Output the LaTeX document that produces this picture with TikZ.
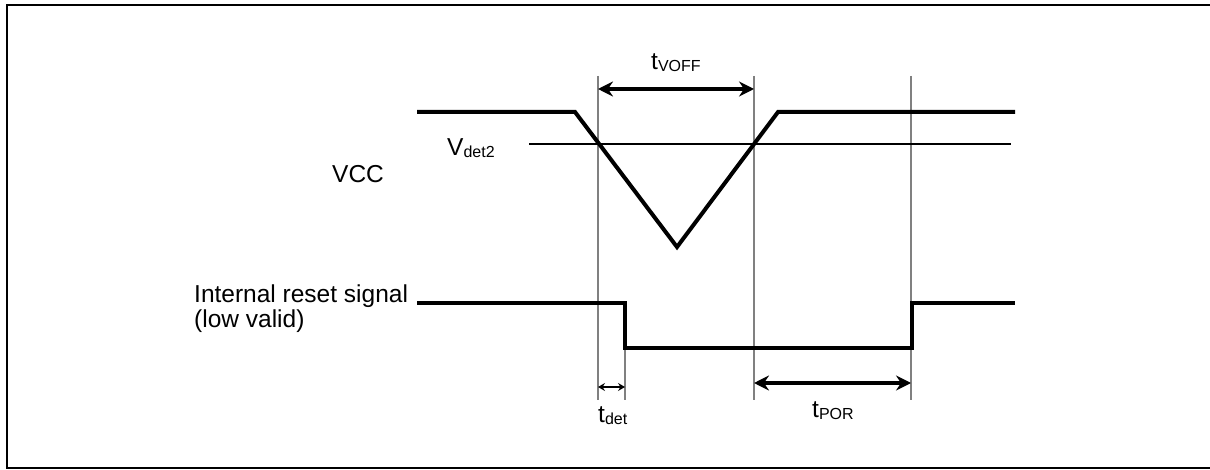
\documentclass[tikz,border=0pt]{standalone}
\usepackage{fontspec}
\setmainfont{Liberation Sans}
\usetikzlibrary{arrows.meta}
\newcommand{\lsub}[1]{{\fontsize{16}{16}\selectfont\raisebox{-2pt}{#1}}}
\begin{document}
\begin{tikzpicture}[x=1pt,y=-1pt,
  sig/.style={line width=4pt,line join=miter},
  guide/.style={line width=1.2pt,draw=black!50},
  thin/.style={line width=1.1pt},
  dim/.style={line width=3.6pt,{Stealth[length=15pt,width=15pt,inset=5pt]}-{Stealth[length=15pt,width=15pt,inset=5pt]}},
  smalldim/.style={line width=2pt,{Stealth[length=7pt,width=8pt,inset=2.5pt]}-{Stealth[length=7pt,width=8pt,inset=2.5pt]}},
  lbl/.style={font=\fontsize{24.5}{25}\selectfont,inner sep=0pt,anchor=base west,align=left}]
\useasboundingbox (0,0) rectangle (1210,470);
% frame
\draw[line width=2.2pt] (1215,5) -- (7,5) -- (7,468) -- (1215,468);
% guide lines
\coordinate (g1t) at (598,76);  \coordinate (g1b) at (598,400);
\coordinate (g2t) at (754,76);  \coordinate (g2b) at (754,400);
\coordinate (g3t) at (911,76);  \coordinate (g3b) at (911,400);
\coordinate (g4t) at (625,303); \coordinate (g4b) at (625,400);
\draw[guide] (g1t) -- (g1b);
\draw[guide] (g2t) -- (g2b);
\draw[guide] (g3t) -- (g3b);
\draw[guide] (g4t) -- (g4b);
% Vdet2 level
\coordinate (vl) at (529,144); \coordinate (vr) at (1011,144);
\draw[thin] (vl) -- (vr);
% VCC waveform
\coordinate (v0) at (417,112); \coordinate (v1) at (575,112);
\coordinate (v2) at (677,247); \coordinate (v3) at (778,112);
\coordinate (v4) at (1015,112);
\draw[sig] (v0) -- (v1) -- (v2) -- (v3) -- (v4);
% reset waveform
\coordinate (r0) at (417,303); \coordinate (r1) at (625,303);
\coordinate (r2) at (625,348); \coordinate (r3) at (912,348);
\coordinate (r4) at (912,303); \coordinate (r5) at (1015,303);
\draw[sig] (r0) -- (r1) -- (r2) -- (r3) -- (r4) -- (r5);
% dimension arrows
\coordinate (a1) at (598,89); \coordinate (a2) at (754,89);
\draw[dim] (a1) -- (a2);
\coordinate (b1) at (754,383); \coordinate (b2) at (911,383);
\draw[dim] (b1) -- (b2);
\coordinate (c1) at (598,387); \coordinate (c2) at (625,387);
\draw[smalldim] (c1) -- (c2);
% labels
\node[lbl] (tvoff) at (651,70) {t\lsub{VOFF}};
\node[lbl] (vdet) at (447,156) {V\lsub{det2}};
\node[lbl] (vcc) at (332,183) {VCC};
\node[lbl] (irs) at (194,327) {Internal reset signal\\(low valid)};
\node[lbl] (tdet) at (598,422) {t\lsub{det}};
\node[lbl] (tpor) at (812,417) {t\lsub{POR}};
\end{tikzpicture}
\end{document}
